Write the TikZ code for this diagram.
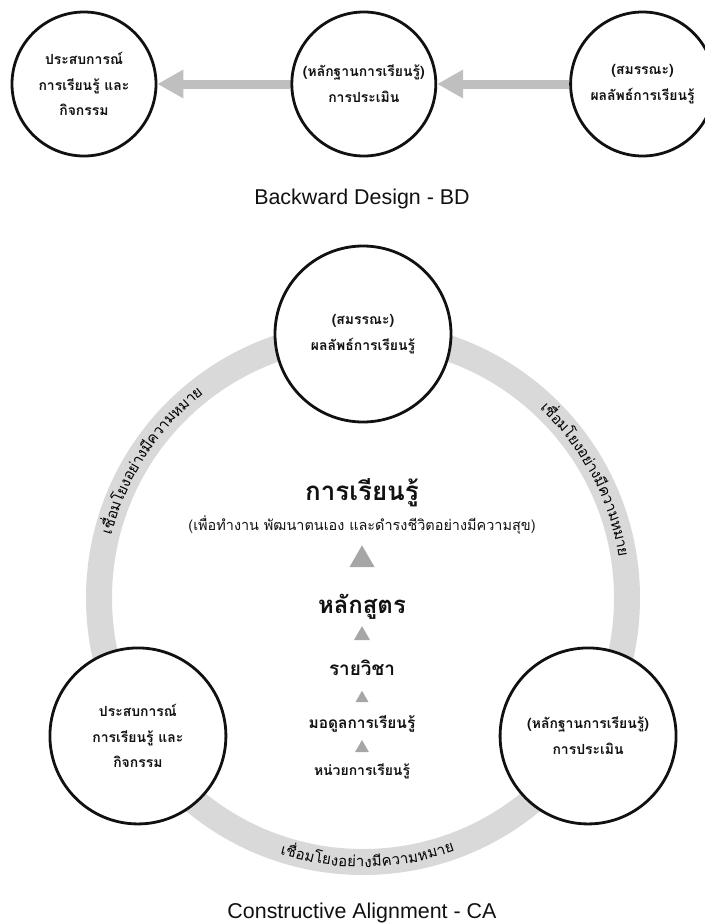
\documentclass[tikz,border=0pt]{standalone}
\usepackage{fontspec}
\setmainfont{Liberation Sans}
\newfontfamily\thaifont[Script=Thai]{Loma}
\usepackage{xcolor}
\definecolor{Ink}{HTML}{111111}
\definecolor{ArrowGray}{HTML}{BFBFBF}
\definecolor{RingGray}{HTML}{D9D9D9}
\definecolor{TipGray}{HTML}{A6A6A6}
\usepackage{tikz}
\usetikzlibrary{arrows.meta,positioning,calc,shapes.geometric,decorations.text}
\newcommand\ringfont{\thaifont\fontsize{15}{18}\selectfont}
\tikzset{
  bubble/.style={circle,draw=Ink,line width=2.8bp,fill=white,align=center,text=Ink,
    font=\thaifont\bfseries\fontsize{14}{26}\selectfont,inner sep=0pt},
  bdbubble/.style={bubble,minimum size=144bp},
  cabubble/.style={bubble,minimum size=176bp},
  bdarrow/.style={-{Triangle[width=27bp,length=26bp]},line width=9bp,draw=ArrowGray},
  ringband/.style={draw=RingGray,line width=26bp},
  ringlabel/.style={decorate,decoration={text along path,text align=center,raise=-5bp,
    text={|\ringfont|{เชื่อม}{โยง}{อย่าง}{มี}{ความ}{หมาย}}}},
  tier/.style={anchor=base,text=Ink,inner sep=0pt},
  tiertip/.style={regular polygon,regular polygon sides=3,fill=TipGray,inner sep=0pt,
    outer sep=0pt,anchor=south},
  caption/.style={anchor=base,text=Ink,font=\fontsize{21.5}{24}\selectfont,inner sep=0pt}
}

\begin{document}
\begin{tikzpicture}[x=1bp,y=1bp]
\useasboundingbox (0,0) rectangle (705,-923);
\node[bdbubble] (bdact) at (84,-84) {ประสบการณ์\\การเรียนรู้ และ\\กิจกรรม};
\node[bdbubble,right=133bp of bdact] (bdeval) {(หลักฐานการเรียนรู้)\\การประเมิน};
\node[bdbubble,right=132bp of bdeval] (bdout) {(สมรรณะ)\\ผลลัพธ์การเรียนรู้};
\draw[bdarrow] (bdout) -- (bdeval);
\draw[bdarrow] (bdeval) -- (bdact);
\node[caption] (bdtitle) at (362,-204) {Backward Design - BD};

\coordinate (ca) at (363,-598);
\draw[ringband] (ca) circle[radius=264];
\path[ringlabel,shift={(ca)}] (177:264) arc[start angle=177,end angle=117,radius=264];
\path[ringlabel,shift={(ca)}] (58:264) arc[start angle=58,end angle=-2,radius=264];
\path[ringlabel,shift={(ca)}] (241:264) arc[start angle=241,end angle=301,radius=264];
\node[cabubble] (caout) at ($(ca)+(90:264)$) {(สมรรณะ)\\ผลลัพธ์การเรียนรู้};
\node[cabubble] (caact) at ($(ca)+(211.5:264)$) {ประสบการณ์\\การเรียนรู้ และ\\กิจกรรม};
\node[cabubble] (caeval) at ($(ca)+(328.5:264)$) {(หลักฐานการเรียนรู้)\\การประเมิน};

\node[tier,font=\thaifont\bfseries\fontsize{26}{30}\selectfont] (learn) at (362,-500) {การเรียนรู้};
\node[tier,font=\thaifont\fontsize{14.5}{17}\selectfont] (aim) at (362,-530) {(เพื่อทำงาน พัฒนาตนเอง และดำรงชีวิตอย่างมีความสุข)};
\node[tiertip,minimum size=28.9bp] (tipa) at (362,-567) {};
\node[tier,font=\thaifont\bfseries\fontsize{24}{28}\selectfont] (course) at (362,-613) {หลักสูตร};
\node[tiertip,minimum size=18.5bp] (tipb) at (362,-640) {};
\node[tier,font=\thaifont\bfseries\fontsize{19}{22}\selectfont] (subject) at (362,-675) {รายวิชา};
\node[tiertip,minimum size=15bp] (tipc) at (362,-702) {};
\node[tier,font=\thaifont\bfseries\fontsize{15.5}{18}\selectfont] (module) at (362,-728) {มอดูลการเรียนรู้};
\node[tiertip,minimum size=16bp] (tipd) at (362,-752) {};
\node[tier,font=\thaifont\bfseries\fontsize{14}{17}\selectfont] (unit) at (362,-775) {หน่วยการเรียนรู้};
\node[caption] (catitle) at (362,-918) {Constructive Alignment - CA};
\end{tikzpicture}
\end{document}
